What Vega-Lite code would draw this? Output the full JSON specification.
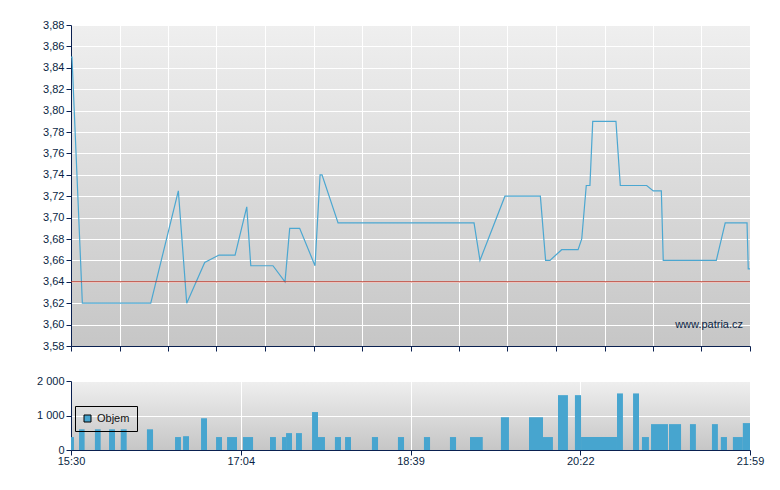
{
  "$schema": "https://vega.github.io/schema/vega-lite/v6.json",
  "padding": {"left": 35, "top": 19, "right": 17, "bottom": 5},
  "spacing": 23,
  "background": "white",
  "config": {
    "font": "Liberation Sans",
    "view": {
      "stroke": null,
      "fill": {"gradient": "linear", "x1": 0, "y1": 0, "x2": 0, "y2": 1,
        "stops": [{"offset": 0, "color": "#efefef"}, {"offset": 1, "color": "#c6c6c6"}]}
    },
    "axis": {
      "domainColor": "#0a2050", "tickColor": "#0a2050", "labelColor": "#0a1f44",
      "labelFont": "Liberation Sans", "labelFontSize": 11, "gridColor": "#ffffff",
      "gridOpacity": 1, "gridWidth": 1, "tickSize": 5, "domainWidth": 1, "tickWidth": 1, "title": null,
      "labelOverlap": false
    }
  },
  "datasets": {
    "price": [
      {"t": 0, "p": 3.85}, {"t": 0.57, "p": 3.85}, {"t": 6.5, "p": 3.62}, {"t": 45.7, "p": 3.62},
      {"t": 61.5, "p": 3.725}, {"t": 66.3, "p": 3.62}, {"t": 76.6, "p": 3.658}, {"t": 84.8, "p": 3.665},
      {"t": 94.0, "p": 3.665}, {"t": 100.7, "p": 3.71}, {"t": 103.0, "p": 3.655}, {"t": 115.7, "p": 3.655},
      {"t": 122.6, "p": 3.64}, {"t": 125.3, "p": 3.69}, {"t": 131.0, "p": 3.69}, {"t": 139.8, "p": 3.655},
      {"t": 142.7, "p": 3.74}, {"t": 143.8, "p": 3.74}, {"t": 153.0, "p": 3.695}, {"t": 230.9, "p": 3.695},
      {"t": 234.3, "p": 3.66}, {"t": 248.6, "p": 3.72}, {"t": 268.9, "p": 3.72}, {"t": 271.9, "p": 3.66},
      {"t": 274.4, "p": 3.66}, {"t": 281.1, "p": 3.67}, {"t": 290.5, "p": 3.67}, {"t": 292.6, "p": 3.68},
      {"t": 295.2, "p": 3.73}, {"t": 297.3, "p": 3.73}, {"t": 298.9, "p": 3.79}, {"t": 312.2, "p": 3.79},
      {"t": 314.7, "p": 3.73}, {"t": 329.8, "p": 3.73}, {"t": 333.6, "p": 3.725}, {"t": 338.2, "p": 3.725},
      {"t": 339.3, "p": 3.66}, {"t": 369.7, "p": 3.66}, {"t": 374.8, "p": 3.695}, {"t": 387.3, "p": 3.695},
      {"t": 388.0, "p": 3.652}, {"t": 389, "p": 3.652}
    ],
    "vol": [
      {"t0": 0, "t1": 1.7, "v": 375}, {"t0": 4.6, "t1": 7.8, "v": 600}, {"t0": 13.7, "t1": 17.0, "v": 600},
      {"t0": 21.8, "t1": 25.2, "v": 600}, {"t0": 28.5, "t1": 31.9, "v": 600}, {"t0": 43.5, "t1": 47.0, "v": 600},
      {"t0": 59.6, "t1": 63.0, "v": 375}, {"t0": 64.2, "t1": 67.6, "v": 400}, {"t0": 74.5, "t1": 77.9, "v": 920},
      {"t0": 83.1, "t1": 86.5, "v": 375}, {"t0": 89.4, "t1": 95.1, "v": 375}, {"t0": 98.5, "t1": 104.3, "v": 375},
      {"t0": 114.0, "t1": 117.4, "v": 375}, {"t0": 120.9, "t1": 123.2, "v": 375}, {"t0": 123.2, "t1": 126.6, "v": 490},
      {"t0": 128.9, "t1": 132.3, "v": 490}, {"t0": 138.1, "t1": 141.5, "v": 1100}, {"t0": 141.5, "t1": 145.5, "v": 375},
      {"t0": 151.2, "t1": 154.7, "v": 375}, {"t0": 157.0, "t1": 160.4, "v": 375}, {"t0": 172.4, "t1": 175.9, "v": 375},
      {"t0": 187.3, "t1": 190.8, "v": 375}, {"t0": 202.2, "t1": 205.7, "v": 375}, {"t0": 217.1, "t1": 220.6, "v": 375},
      {"t0": 228.6, "t1": 235.9, "v": 375}, {"t0": 246.3, "t1": 250.9, "v": 950}, {"t0": 262.4, "t1": 270.4, "v": 950},
      {"t0": 270.4, "t1": 276.1, "v": 375}, {"t0": 279.0, "t1": 284.7, "v": 1590}, {"t0": 288.7, "t1": 292.2, "v": 1590},
      {"t0": 292.2, "t1": 312.8, "v": 375}, {"t0": 312.8, "t1": 316.2, "v": 1640}, {"t0": 322.0, "t1": 325.4, "v": 1640},
      {"t0": 327.1, "t1": 331.1, "v": 375}, {"t0": 332.3, "t1": 342.0, "v": 750}, {"t0": 342.6, "t1": 349.5, "v": 750},
      {"t0": 354.6, "t1": 358.0, "v": 750}, {"t0": 367.2, "t1": 370.6, "v": 750}, {"t0": 372.3, "t1": 375.8, "v": 375},
      {"t0": 379.2, "t1": 384.9, "v": 375}, {"t0": 384.9, "t1": 389, "v": 780}
    ]
  },
  "resolve": {"scale": {"x": "independent", "y": "independent", "color": "independent"}},
  "vconcat": [
    {
      "width": 679,
      "height": 321,
      "layer": [
        {
          "data": {"name": "price"},
          "mark": {"type": "line", "color": "#4ba7d1", "strokeWidth": 1.2, "clip": true},
          "encoding": {
            "x": {"field": "t", "type": "quantitative",
              "scale": {"domain": [0, 389], "nice": false, "zero": false},
              "axis": {"values": [0, 27.786, 55.571, 83.357, 111.143, 138.929, 166.714, 194.5, 222.286, 250.071, 277.857, 305.643, 333.429, 361.214, 389], "tickCount": 100, "labels": false, "minExtent": 0}},
            "y": {"field": "p", "type": "quantitative",
              "scale": {"domain": [3.58, 3.88], "nice": false, "zero": false},
              "axis": {"values": [3.58, 3.6, 3.62, 3.64, 3.66, 3.68, 3.7, 3.72, 3.74, 3.76, 3.78, 3.8, 3.82, 3.84, 3.86, 3.88],
                "tickCount": 100, "labelOverlap": false, "labelFlush": false, "labelBound": false,
                "labelExpr": "replace(format(datum.value, '.2f'), '.', ',')", "labelPadding": 2, "minExtent": 36, "maxExtent": 36}}
          }
        },
        {
          "data": {"values": [{}]},
          "mark": {"type": "rule", "color": "#c0392b", "strokeWidth": 1},
          "encoding": {"y": {"datum": 3.64}}
        },
        {
          "data": {"values": [{"label": "www.patria.cz"}]},
          "mark": {"type": "text", "align": "right", "baseline": "middle", "fontSize": 11, "font": "Liberation Sans", "color": "#0a1f44"},
          "encoding": {"x": {"datum": 385}, "y": {"datum": 3.6}, "text": {"field": "label"}}
        }
      ]
    },
    {
      "width": 679,
      "height": 69,
      "data": {"name": "vol"},
      "mark": {"type": "bar", "color": "#47a5cf"},
      "encoding": {
        "x": {"field": "t0", "type": "quantitative",
          "scale": {"domain": [0, 389], "nice": false, "zero": false},
          "axis": {"values": [0, 97.25, 194.5, 291.75, 389], "tickCount": 100, "labelFlush": false, "labelPadding": 0, "labelOverlap": false,
            "labelExpr": "datum.value == 0 ? '15:30' : datum.value < 100 ? '17:04' : datum.value < 200 ? '18:39' : datum.value < 300 ? '20:22' : '21:59'"}},
        "x2": {"field": "t1"},
        "y": {"field": "v", "type": "quantitative",
          "scale": {"domain": [0, 2000], "nice": false},
          "axis": {"values": [0, 1000, 2000], "tickCount": 100, "labelPadding": 2, "minExtent": 36, "maxExtent": 36, "labelOverlap": false, "labelFlush": false,
            "labelExpr": "datum.value == 0 ? '0' : (datum.value / 1000) + ' 000'"}},
        "y2": {"datum": 0},
        "color": {"datum": "Objem", "type": "nominal", "scale": {"range": ["#47a5cf"]},
          "legend": {"title": null, "orient": "none", "legendX": 4, "legendY": 25, "strokeColor": "#000000",
            "padding": 7, "symbolType": "square", "symbolSize": 49, "symbolStrokeColor": "#000000", "symbolStrokeWidth": 1,
            "symbolFillColor": "#47a5cf", "labelFontSize": 11, "labelFont": "Liberation Sans", "labelColor": "#111111", "labelOffset": 4, "symbolOffset": 0}}
      }
    }
  ]
}
